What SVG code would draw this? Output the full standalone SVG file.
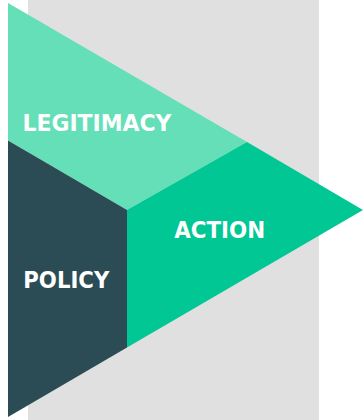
<svg xmlns="http://www.w3.org/2000/svg" width="364" height="420" viewBox="0 0 364 420">
<style>
.lbl{font-family:"DejaVu Sans","Verdana",sans-serif;font-weight:bold;font-size:23.5px;fill:#ffffff;text-anchor:middle}
</style>
<rect x="28" y="0" width="291" height="420" fill="#e0e0e0"/>
<g id="legitimacy">
<polygon points="8,3 247,142 127,210 8,140.6" fill="#64dfb8"/>
<text class="lbl" x="97" y="130.5" textLength="149" lengthAdjust="spacingAndGlyphs">LEGITIMACY</text>
</g>
<g id="action">
<polygon points="127,210 247,142 363,210 127,347.6" fill="#00c794"/>
<text class="lbl" x="219.7" y="238" textLength="91" lengthAdjust="spacingAndGlyphs">ACTION</text>
</g>
<g id="policy">
<polygon points="8,140.6 127,210 127,347.6 8,417" fill="#2b4c55"/>
<text class="lbl" x="66.3" y="288" textLength="86" lengthAdjust="spacingAndGlyphs">POLICY</text>
</g>
<g id="connectors"/>
</svg>
